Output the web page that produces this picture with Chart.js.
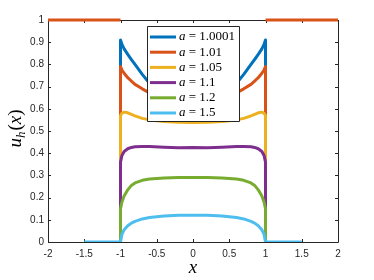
<!DOCTYPE html>
<html>
<head>
<meta charset="utf-8">
<script src="https://cdn.jsdelivr.net/npm/chart.js@4"></script>
<style>
  html, body { margin: 0; padding: 0; background: #fff; }
  #wrap { width: 374px; height: 280px; }
</style>
</head>
<body>
<div id="wrap"><canvas id="myChart" width="374" height="280"></canvas></div>
<script>
// x grid shared by all curves inside [-1, 1]
var xs = [-1, -0.98, -0.95, -0.9, -0.85, -0.8, -0.7, -0.6, -0.4, -0.2, 0, 0.2, 0.4, 0.6, 0.7, 0.8, 0.85, 0.9, 0.95, 0.98, 1];

var labels = ["1.0001", "1.01", "1.05", "1.1", "1.2", "1.5"];
var colors = ["#0072BD", "#D95319", "#EDB120", "#7E2F8E", "#77AC30", "#4DBEEE"];

var u_10001 = [0.91, 0.89, 0.87, 0.845, 0.822, 0.80, 0.755, 0.715, 0.66, 0.63, 0.62, 0.63, 0.66, 0.715, 0.755, 0.80, 0.822, 0.845, 0.87, 0.89, 0.91];
var u_101 = [0.79, 0.775, 0.76, 0.74, 0.725, 0.71, 0.69, 0.672, 0.645, 0.63, 0.625, 0.63, 0.645, 0.672, 0.69, 0.71, 0.725, 0.74, 0.76, 0.775, 0.79];
var u_105 = [0.57, 0.58, 0.585, 0.582, 0.575, 0.568, 0.557, 0.55, 0.543, 0.539, 0.538, 0.539, 0.543, 0.55, 0.557, 0.568, 0.575, 0.582, 0.585, 0.58, 0.57];
var u_11 = [0.36, 0.39, 0.408, 0.42, 0.426, 0.429, 0.43, 0.43, 0.427, 0.425, 0.426, 0.425, 0.427, 0.43, 0.43, 0.429, 0.426, 0.42, 0.408, 0.39, 0.36];
var u_12 = [0.15, 0.18, 0.207, 0.235, 0.255, 0.266, 0.278, 0.284, 0.288, 0.29, 0.29, 0.29, 0.288, 0.284, 0.278, 0.266, 0.255, 0.235, 0.207, 0.18, 0.15];
var u_15 = [0, 0.035, 0.055, 0.073, 0.085, 0.093, 0.104, 0.11, 0.117, 0.12, 0.121, 0.12, 0.117, 0.11, 0.104, 0.093, 0.085, 0.073, 0.055, 0.035, 0];

// pieces outside [-1, 1]
var outerLeftX = [-2, -1];
var outerRightX = [1, 2];
var outerValue = 1;
var zeroLeftX = [-1.5, -1];
var zeroRightX = [1, 1.5];

var xTicks = [-2, -1.5, -1, -0.5, 0, 0.5, 1, 1.5, 2];
var yTicks = [0, 0.1, 0.2, 0.3, 0.4, 0.5, 0.6, 0.7, 0.8, 0.9, 1];

function toPoints(ys) {
  var pts = [{ x: -1, y: 0 }];
  xs.forEach(function (x, i) { pts.push({ x: x, y: ys[i] }); });
  pts.push({ x: 1, y: 0 });
  return pts;
}

var series = [u_10001, u_101, u_105, u_11, u_12, u_15];
var datasets = [];
series.forEach(function (ys, i) {
  var pts = toPoints(ys);
  if (i === 5) {
    pts = zeroLeftX.map(function (x) { return { x: x, y: 0 }; })
      .concat(pts)
      .concat(zeroRightX.map(function (x) { return { x: x, y: 0 }; }));
  }
  datasets.push({
    label: "a = " + labels[i],
    data: pts,
    borderColor: colors[i],
    borderWidth: 3,
    order: 10 - i,
  });
});

var axisColor = "#262626";

// box + inward ticks (MATLAB style)
const boxTicks = {
  id: "boxTicks",
  beforeDatasetsDraw(chart) {
    const { ctx, chartArea: a, scales: { x, y } } = chart;
    ctx.save();
    ctx.strokeStyle = axisColor;
    ctx.lineWidth = 1;
    ctx.beginPath();
    ctx.moveTo(a.left + 0.5, a.top + 0.5);
    ctx.lineTo(a.left + 0.5, a.bottom + 0.5);
    ctx.lineTo(a.right + 0.5, a.bottom + 0.5);
    ctx.lineTo(a.right + 0.5, a.top + 0.5);
    ctx.lineTo(a.left + 0.5, a.top + 0.5);
    xTicks.forEach(function (v) {
      var px = Math.round(x.getPixelForValue(v)) + 0.5;
      ctx.moveTo(px, a.bottom); ctx.lineTo(px, a.bottom - 3);
      ctx.moveTo(px, a.top); ctx.lineTo(px, a.top + 3);
    });
    yTicks.forEach(function (v) {
      var py = Math.round(y.getPixelForValue(v)) + 0.5;
      ctx.moveTo(a.left, py); ctx.lineTo(a.left + 3, py);
      ctx.moveTo(a.right, py); ctx.lineTo(a.right - 3, py);
    });
    ctx.stroke();
    ctx.beginPath();
    ctx.restore();
  },
  // a = 1.01 also sits at 1 outside the interval
  afterDatasetsDraw(chart) {
    const { ctx, scales: { x, y } } = chart;
    ctx.save();
    ctx.strokeStyle = colors[1];
    ctx.lineWidth = 3;
    ctx.lineCap = "butt";
    [outerLeftX, outerRightX].forEach(function (xx) {
      ctx.beginPath();
      ctx.moveTo(x.getPixelForValue(xx[0]), y.getPixelForValue(outerValue));
      ctx.lineTo(x.getPixelForValue(xx[1]), y.getPixelForValue(outerValue));
      ctx.stroke();
    });
    ctx.beginPath();
    ctx.restore();
  },
};

// legend box and axis titles
const legendBox = {
  id: "legendBox",
  afterDraw(chart) {
    const ctx = chart.ctx;
    ctx.save();
    var L = 147, T = 26, R = 239, B = 121;
    ctx.fillStyle = "#fff";
    ctx.fillRect(L, T, R - L, B - T);
    ctx.strokeStyle = axisColor;
    ctx.lineWidth = 1;
    ctx.beginPath();
    ctx.rect(L + 0.5, T + 0.5, R - L, B - T);
    ctx.stroke();
    ctx.textBaseline = "middle";
    ctx.fillStyle = "#000";
    labels.forEach(function (lab, i) {
      var yy = 37 + i * 15.2;
      ctx.strokeStyle = colors[i];
      ctx.lineWidth = 3;
      ctx.beginPath();
      ctx.moveTo(150, yy); ctx.lineTo(176, yy);
      ctx.stroke();
      ctx.font = "italic 13px 'Liberation Serif'";
      ctx.fillText("a", 179, yy);
      var w = ctx.measureText("a").width;
      ctx.font = "13px 'Liberation Serif'";
      ctx.fillText(" = " + lab, 179 + w, yy);
    });
    ctx.beginPath();

    // x title
    ctx.font = "italic 19px 'Liberation Serif'";
    ctx.textAlign = "center";
    ctx.textBaseline = "alphabetic";
    ctx.fillText("x", 193, 273);

    // y title u_h(x)
    ctx.translate(21, 129);
    ctx.rotate(-Math.PI / 2);
    var parts = [
      { t: "u", f: "italic 19px 'Liberation Serif'", dy: 0 },
      { t: "h", f: "italic 13px 'Liberation Serif'", dy: 4 },
      { t: "(", f: "19px 'Liberation Serif'", dy: 0 },
      { t: "x", f: "italic 19px 'Liberation Serif'", dy: 0 },
      { t: ")", f: "19px 'Liberation Serif'", dy: 0 },
    ];
    var total = 0;
    parts.forEach(function (p) { ctx.font = p.f; p.w = ctx.measureText(p.t).width; total += p.w; });
    var cx = -total / 2;
    ctx.textAlign = "left";
    parts.forEach(function (p) {
      ctx.font = p.f;
      ctx.fillText(p.t, cx, p.dy);
      cx += p.w + (p.t === "h" ? 1 : 0);
    });
    ctx.restore();
  },
};

const ctx = document.getElementById("myChart");

const config = {
  type: "line",
  data: { datasets: datasets },
  options: {
    responsive: false,
    animation: false,
    layout: { padding: { left: 0, right: 36, top: 20, bottom: 0 } },
    elements: {
      point: { radius: 0 },
      line: { tension: 0, borderJoinStyle: "round", borderCapStyle: "butt" },
    },
    plugins: {
      legend: { display: false },
      tooltip: { enabled: false },
    },
    scales: {
      x: {
        type: "linear",
        min: -2,
        max: 2,
        afterFit: function (s) { s.height = 38; },
        afterBuildTicks: function (s) { s.ticks = xTicks.map(function (v) { return { value: v }; }); },
        grid: { display: false, drawTicks: false },
        border: { display: false },
        ticks: {
          padding: 6,
          color: axisColor,
          font: { family: "'Liberation Sans'", size: 10 },
          maxRotation: 0,
          autoSkip: false,
          callback: function (v) { return String(v); },
        },
      },
      y: {
        type: "linear",
        min: 0,
        max: 1,
        afterFit: function (s) { s.width = 48; },
        afterBuildTicks: function (s) { s.ticks = yTicks.map(function (v) { return { value: v }; }); },
        grid: { display: false, drawTicks: false },
        border: { display: false },
        ticks: {
          padding: 4,
          color: axisColor,
          font: { family: "'Liberation Sans'", size: 10 },
          autoSkip: false,
          callback: function (v) { return String(+v.toFixed(1)); },
        },
      },
    },
  },
  plugins: [boxTicks, legendBox],
};

var chart = new Chart(ctx, config);
</script>
</body>
</html>
